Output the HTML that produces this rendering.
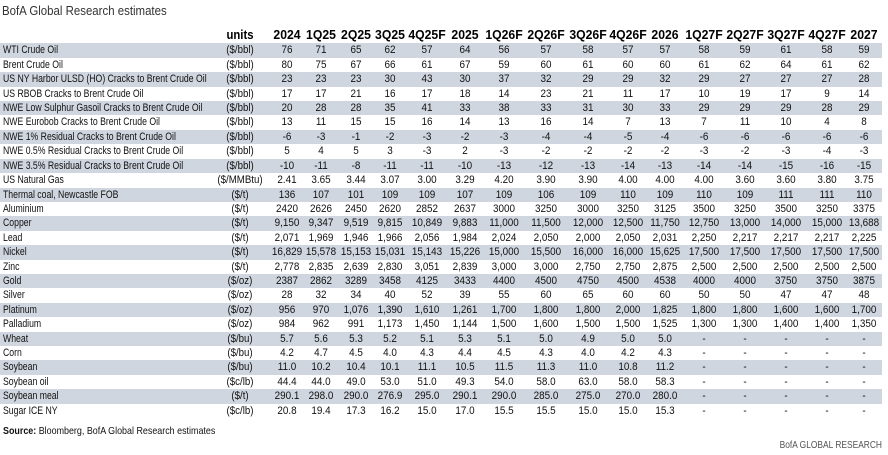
<!DOCTYPE html>
<html><head><meta charset="utf-8"><style>
html,body{margin:0;padding:0;background:#fff;}
body{width:888px;height:455px;position:relative;overflow:hidden;font-family:"Liberation Sans",sans-serif;color:#111;}
.t{position:absolute;left:2px;top:0.6px;height:20px;line-height:20px;font-size:13px;color:#333;white-space:nowrap;transform:scaleX(.88);transform-origin:0 50%;}
.h{position:absolute;left:0;top:24.6px;width:882px;height:20px;line-height:20px;font-size:13px;font-weight:bold;color:#000;}
.h b{position:absolute;top:0;width:50px;text-align:center;white-space:nowrap;transform:scaleX(.94);}
.h b.u{left:210px;width:60px;transform:scaleX(.87);}
#tb{position:absolute;left:0;top:43.45px;width:882px;}
.r{position:relative;height:14.42px;line-height:14.42px;font-size:11px;}
.s{background:#d0d6df;}
.r span,.r i{position:absolute;top:0;white-space:nowrap;font-style:normal;}
.r .l{left:3px;transform:scaleX(.79);transform-origin:0 50%;}
.r .u{left:200px;width:80px;text-align:center;transform:scaleX(.88);}
.r i{width:50px;text-align:center;transform:scaleX(.9);}
.r i:nth-of-type(1),.h b:nth-of-type(2){left:262px}
.r i:nth-of-type(2),.h b:nth-of-type(3){left:296px}
.r i:nth-of-type(3),.h b:nth-of-type(4){left:331px}
.r i:nth-of-type(4),.h b:nth-of-type(5){left:365px}
.r i:nth-of-type(5),.h b:nth-of-type(6){left:402px}
.r i:nth-of-type(6),.h b:nth-of-type(7){left:440px}
.r i:nth-of-type(7),.h b:nth-of-type(8){left:479px}
.r i:nth-of-type(8),.h b:nth-of-type(9){left:521px}
.r i:nth-of-type(9),.h b:nth-of-type(10){left:563px}
.r i:nth-of-type(10),.h b:nth-of-type(11){left:603px}
.r i:nth-of-type(11),.h b:nth-of-type(12){left:640px}
.r i:nth-of-type(12),.h b:nth-of-type(13){left:679px}
.r i:nth-of-type(13),.h b:nth-of-type(14){left:720px}
.r i:nth-of-type(14),.h b:nth-of-type(15){left:761px}
.r i:nth-of-type(15),.h b:nth-of-type(16){left:802px}
.r i:nth-of-type(16),.h b:nth-of-type(17){left:839px}
.src{position:absolute;left:3px;top:423.6px;height:14px;line-height:14px;font-size:10.5px;color:#111;white-space:nowrap;transform:scaleX(.85);transform-origin:0 50%;}
.bofa{position:absolute;right:6px;top:437.6px;height:14px;line-height:14px;font-size:10.5px;color:#555;white-space:nowrap;transform:scaleX(.8);transform-origin:100% 50%;}
</style></head><body>
<div class="t">BofA Global Research estimates</div>
<div class="h"><b class="u">units</b><b>2024</b><b>1Q25</b><b>2Q25</b><b>3Q25</b><b>4Q25F</b><b>2025</b><b>1Q26F</b><b>2Q26F</b><b>3Q26F</b><b>4Q26F</b><b>2026</b><b>1Q27F</b><b>2Q27F</b><b>3Q27F</b><b>4Q27F</b><b>2027</b></div>
<div id="tb">
<div class="r s"><span class="l">WTI Crude Oil</span><span class="u">($/bbl)</span><i>76</i><i>71</i><i>65</i><i>62</i><i>57</i><i>64</i><i>56</i><i>57</i><i>58</i><i>57</i><i>57</i><i>58</i><i>59</i><i>61</i><i>58</i><i>59</i></div>
<div class="r"><span class="l">Brent Crude Oil</span><span class="u">($/bbl)</span><i>80</i><i>75</i><i>67</i><i>66</i><i>61</i><i>67</i><i>59</i><i>60</i><i>61</i><i>60</i><i>60</i><i>61</i><i>62</i><i>64</i><i>61</i><i>62</i></div>
<div class="r s"><span class="l">US NY Harbor ULSD (HO) Cracks to Brent Crude Oil</span><span class="u">($/bbl)</span><i>23</i><i>23</i><i>23</i><i>30</i><i>43</i><i>30</i><i>37</i><i>32</i><i>29</i><i>29</i><i>32</i><i>29</i><i>27</i><i>27</i><i>27</i><i>28</i></div>
<div class="r"><span class="l">US RBOB Cracks to Brent Crude Oil</span><span class="u">($/bbl)</span><i>17</i><i>17</i><i>21</i><i>16</i><i>17</i><i>18</i><i>14</i><i>23</i><i>21</i><i>11</i><i>17</i><i>10</i><i>19</i><i>17</i><i>9</i><i>14</i></div>
<div class="r s"><span class="l">NWE Low Sulphur Gasoil Cracks to Brent Crude Oil</span><span class="u">($/bbl)</span><i>20</i><i>28</i><i>28</i><i>35</i><i>41</i><i>33</i><i>38</i><i>33</i><i>31</i><i>30</i><i>33</i><i>29</i><i>29</i><i>29</i><i>28</i><i>29</i></div>
<div class="r"><span class="l">NWE Eurobob Cracks to Brent Crude Oil</span><span class="u">($/bbl)</span><i>13</i><i>11</i><i>15</i><i>15</i><i>16</i><i>14</i><i>13</i><i>16</i><i>14</i><i>7</i><i>13</i><i>7</i><i>11</i><i>10</i><i>4</i><i>8</i></div>
<div class="r s"><span class="l">NWE 1% Residual Cracks to Brent Crude Oil</span><span class="u">($/bbl)</span><i>-6</i><i>-3</i><i>-1</i><i>-2</i><i>-3</i><i>-2</i><i>-3</i><i>-4</i><i>-4</i><i>-5</i><i>-4</i><i>-6</i><i>-6</i><i>-6</i><i>-6</i><i>-6</i></div>
<div class="r"><span class="l">NWE 0.5% Residual Cracks to Brent Crude Oil</span><span class="u">($/bbl)</span><i>5</i><i>4</i><i>5</i><i>3</i><i>-3</i><i>2</i><i>-3</i><i>-2</i><i>-2</i><i>-2</i><i>-2</i><i>-3</i><i>-2</i><i>-3</i><i>-4</i><i>-3</i></div>
<div class="r s"><span class="l">NWE 3.5% Residual Cracks to Brent Crude Oil</span><span class="u">($/bbl)</span><i>-10</i><i>-11</i><i>-8</i><i>-11</i><i>-11</i><i>-10</i><i>-13</i><i>-12</i><i>-13</i><i>-14</i><i>-13</i><i>-14</i><i>-14</i><i>-15</i><i>-16</i><i>-15</i></div>
<div class="r"><span class="l">US Natural Gas</span><span class="u">($/MMBtu)</span><i>2.41</i><i>3.65</i><i>3.44</i><i>3.07</i><i>3.00</i><i>3.29</i><i>4.20</i><i>3.90</i><i>3.90</i><i>4.00</i><i>4.00</i><i>4.00</i><i>3.60</i><i>3.60</i><i>3.80</i><i>3.75</i></div>
<div class="r s"><span class="l">Thermal coal, Newcastle FOB</span><span class="u">($/t)</span><i>136</i><i>107</i><i>101</i><i>109</i><i>109</i><i>107</i><i>109</i><i>106</i><i>109</i><i>110</i><i>109</i><i>110</i><i>109</i><i>111</i><i>111</i><i>110</i></div>
<div class="r"><span class="l">Aluminium</span><span class="u">($/t)</span><i>2420</i><i>2626</i><i>2450</i><i>2620</i><i>2852</i><i>2637</i><i>3000</i><i>3250</i><i>3000</i><i>3250</i><i>3125</i><i>3500</i><i>3250</i><i>3500</i><i>3250</i><i>3375</i></div>
<div class="r s"><span class="l">Copper</span><span class="u">($/t)</span><i>9,150</i><i>9,347</i><i>9,519</i><i>9,815</i><i>10,849</i><i>9,883</i><i>11,000</i><i>11,500</i><i>12,000</i><i>12,500</i><i>11,750</i><i>12,750</i><i>13,000</i><i>14,000</i><i>15,000</i><i>13,688</i></div>
<div class="r"><span class="l">Lead</span><span class="u">($/t)</span><i>2,071</i><i>1,969</i><i>1,946</i><i>1,966</i><i>2,056</i><i>1,984</i><i>2,024</i><i>2,050</i><i>2,000</i><i>2,050</i><i>2,031</i><i>2,250</i><i>2,217</i><i>2,217</i><i>2,217</i><i>2,225</i></div>
<div class="r s"><span class="l">Nickel</span><span class="u">($/t)</span><i>16,829</i><i>15,578</i><i>15,153</i><i>15,031</i><i>15,143</i><i>15,226</i><i>15,000</i><i>15,500</i><i>16,000</i><i>16,000</i><i>15,625</i><i>17,500</i><i>17,500</i><i>17,500</i><i>17,500</i><i>17,500</i></div>
<div class="r"><span class="l">Zinc</span><span class="u">($/t)</span><i>2,778</i><i>2,835</i><i>2,639</i><i>2,830</i><i>3,051</i><i>2,839</i><i>3,000</i><i>3,000</i><i>2,750</i><i>2,750</i><i>2,875</i><i>2,500</i><i>2,500</i><i>2,500</i><i>2,500</i><i>2,500</i></div>
<div class="r s"><span class="l">Gold</span><span class="u">($/oz)</span><i>2387</i><i>2862</i><i>3289</i><i>3458</i><i>4125</i><i>3433</i><i>4400</i><i>4500</i><i>4750</i><i>4500</i><i>4538</i><i>4000</i><i>4000</i><i>3750</i><i>3750</i><i>3875</i></div>
<div class="r"><span class="l">Silver</span><span class="u">($/oz)</span><i>28</i><i>32</i><i>34</i><i>40</i><i>52</i><i>39</i><i>55</i><i>60</i><i>65</i><i>60</i><i>60</i><i>50</i><i>50</i><i>47</i><i>47</i><i>48</i></div>
<div class="r s"><span class="l">Platinum</span><span class="u">($/oz)</span><i>956</i><i>970</i><i>1,076</i><i>1,390</i><i>1,610</i><i>1,261</i><i>1,700</i><i>1,800</i><i>1,800</i><i>2,000</i><i>1,825</i><i>1,800</i><i>1,800</i><i>1,600</i><i>1,600</i><i>1,700</i></div>
<div class="r"><span class="l">Palladium</span><span class="u">($/oz)</span><i>984</i><i>962</i><i>991</i><i>1,173</i><i>1,450</i><i>1,144</i><i>1,500</i><i>1,600</i><i>1,500</i><i>1,500</i><i>1,525</i><i>1,300</i><i>1,300</i><i>1,400</i><i>1,400</i><i>1,350</i></div>
<div class="r s"><span class="l">Wheat</span><span class="u">($/bu)</span><i>5.7</i><i>5.6</i><i>5.3</i><i>5.2</i><i>5.1</i><i>5.3</i><i>5.1</i><i>5.0</i><i>4.9</i><i>5.0</i><i>5.0</i><i>-</i><i>-</i><i>-</i><i>-</i><i>-</i></div>
<div class="r"><span class="l">Corn</span><span class="u">($/bu)</span><i>4.2</i><i>4.7</i><i>4.5</i><i>4.0</i><i>4.3</i><i>4.4</i><i>4.5</i><i>4.3</i><i>4.0</i><i>4.2</i><i>4.3</i><i>-</i><i>-</i><i>-</i><i>-</i><i>-</i></div>
<div class="r s"><span class="l">Soybean</span><span class="u">($/bu)</span><i>11.0</i><i>10.2</i><i>10.4</i><i>10.1</i><i>11.1</i><i>10.5</i><i>11.5</i><i>11.3</i><i>11.0</i><i>10.8</i><i>11.2</i><i>-</i><i>-</i><i>-</i><i>-</i><i>-</i></div>
<div class="r"><span class="l">Soybean oil</span><span class="u">($c/lb)</span><i>44.4</i><i>44.0</i><i>49.0</i><i>53.0</i><i>51.0</i><i>49.3</i><i>54.0</i><i>58.0</i><i>63.0</i><i>58.0</i><i>58.3</i><i>-</i><i>-</i><i>-</i><i>-</i><i>-</i></div>
<div class="r s"><span class="l">Soybean meal</span><span class="u">($/t)</span><i>290.1</i><i>298.0</i><i>290.0</i><i>276.9</i><i>295.0</i><i>290.1</i><i>290.0</i><i>285.0</i><i>275.0</i><i>270.0</i><i>280.0</i><i>-</i><i>-</i><i>-</i><i>-</i><i>-</i></div>
<div class="r"><span class="l">Sugar ICE NY</span><span class="u">($c/lb)</span><i>20.8</i><i>19.4</i><i>17.3</i><i>16.2</i><i>15.0</i><i>17.0</i><i>15.5</i><i>15.5</i><i>15.0</i><i>15.0</i><i>15.3</i><i>-</i><i>-</i><i>-</i><i>-</i><i>-</i></div>
</div>
<div class="src"><b>Source:</b> Bloomberg, BofA Global Research estimates</div>
<div class="bofa">BofA GLOBAL RESEARCH</div>
</body></html>
